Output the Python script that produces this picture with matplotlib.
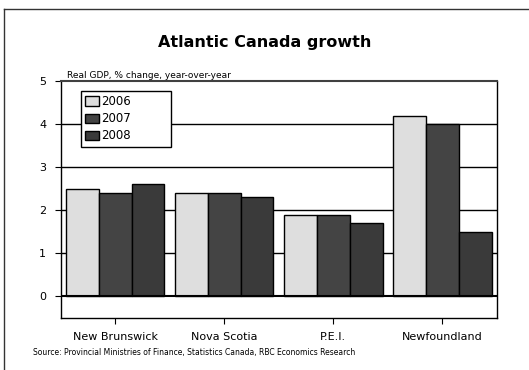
import matplotlib.pyplot as plt
import numpy as np
from matplotlib.lines import Line2D

provinces = ['New Brunswick', 'Nova Scotia', 'P.E.I.', 'Newfoundland']
years = ['2006', '2007', '2008']
gdp_2006 = [2.5, 2.4, 1.9, 4.2]
gdp_2007 = [2.4, 2.4, 1.9, 4.0]
gdp_2008 = [2.6, 2.3, 1.7, 1.5]
colors = ['#dedede', '#444444', '#3a3a3a']

fig = plt.figure(figsize=(5.29, 3.70), dpi=100)
ax = fig.add_axes([0.115, 0.1405, 0.8245, 0.6405])

x = np.arange(len(provinces))
w = 0.3
for i, vals in enumerate([gdp_2006, gdp_2007, gdp_2008]):
    ax.bar(x + (i - 1) * w, vals, w, color=colors[i], edgecolor='black',
           linewidth=1, label=years[i], zorder=3)

ax.set_xlim(-0.5, 3.5)
ax.set_ylim(-0.5, 5)
ax.set_yticks([0, 1, 2, 3, 4, 5])
ax.set_xticks(x)
ax.set_xticklabels(provinces, fontsize=8)
ax.tick_params(axis='y', labelsize=8, length=4.5, direction='out', pad=6)
ax.tick_params(axis='x', length=4, direction='out', pad=6)
for v in [1, 2, 3, 4]:
    ax.axhline(v, color='black', linewidth=1, zorder=1)
ax.axhline(0, color='black', linewidth=1.5, zorder=4)
for s in ax.spines.values():
    s.set_linewidth(1)
ax.spines['top'].set_color('#404040')
ax.spines['top'].set_linewidth(1.5)

leg = ax.legend(loc='upper left', bbox_to_anchor=(0.046, 0.6, 0.206, 0.358),
                mode='expand', fontsize=8.5,
                fancybox=False, edgecolor='black', framealpha=1,
                handlelength=1.2, handleheight=0.8, handletextpad=0.2,
                labelspacing=0.35, borderpad=0.35, borderaxespad=0)
leg.get_frame().set_linewidth(1)
leg.set_zorder(5)

fig.text(0.5, 0.885, 'Atlantic Canada growth', ha='center', va='center',
         fontsize=11.5, fontweight='bold')
fig.text(0.127, 0.797, 'Real GDP, % change, year-over-year', ha='left',
         va='center', fontsize=6.5)
fig.text(0.062, 0.046, 'Source: Provincial Ministries of Finance, Statistics Canada, RBC Economics Research',
         ha='left', va='center', fontsize=5.5)

# outer frame (left and top edges)
fig.add_artist(Line2D([0.008, 0.008], [0, 0.976], color='#333333', linewidth=1))
fig.add_artist(Line2D([0.008, 1], [0.976, 0.976], color='#333333', linewidth=1))

fig.savefig('out.png', dpi=100)
